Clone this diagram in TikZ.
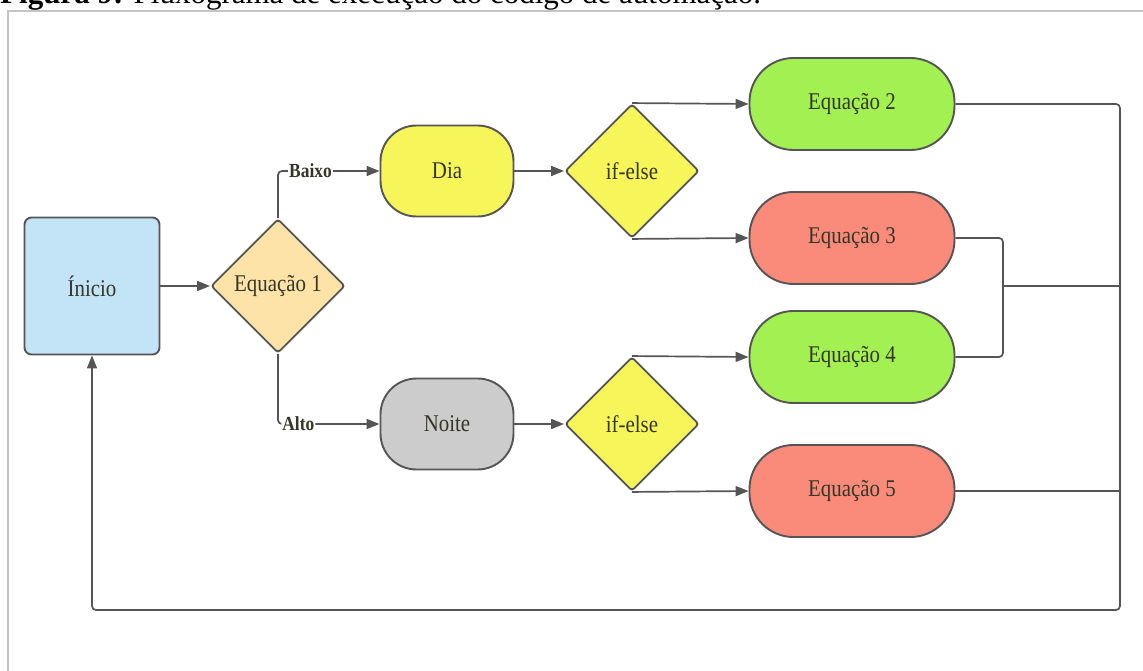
\documentclass[tikz,border=0pt]{standalone}
\usepackage{fontspec}
\setmainfont{Liberation Serif}
\newfontfamily\diafont[FakeStretch=0.87]{Liberation Serif}
\usetikzlibrary{shapes.geometric,arrows.meta}
\definecolor{edge}{HTML}{555555}
\definecolor{txt}{HTML}{363628}
\definecolor{framegray}{HTML}{C4C4C4}
\definecolor{blue1}{HTML}{C3E4F6}
\definecolor{peach}{HTML}{FDE3A7}
\definecolor{yel}{HTML}{F6F55A}
\definecolor{grey1}{HTML}{CCCCCC}
\definecolor{green1}{HTML}{A2F052}
\definecolor{salmon}{HTML}{FA8B7A}
\tikzset{
  base/.style={draw=edge, line width=1.9pt, text=txt, font=\diafont\fontsize{24}{26}\selectfont, inner sep=0pt},
  startbox/.style={base, rectangle, rounded corners=7pt, minimum width=135pt, minimum height=137pt, fill=blue1},
  decision/.style={base, diamond, aspect=1, rounded corners=3pt, minimum width=134pt, minimum height=134pt},
  term/.style={base, rectangle, rounded corners=36pt, minimum width=133pt, minimum height=91pt},
  eqbox/.style={base, rectangle, rounded corners=44pt, minimum width=205pt, minimum height=92pt},
  conn/.style={draw=edge, line width=1.7pt, rounded corners=4pt},
  arr/.style={conn, -{Triangle[length=13pt,width=10pt]}},
  lbl/.style={fill=white, inner sep=1pt, text=txt, font=\diafont\bfseries\fontsize{20}{22}\selectfont}
}
\begin{document}
\begin{tikzpicture}[x=1pt,y=-1pt]
\useasboundingbox (0,0) rectangle (1143,671);
\fill[white] (0,0) rectangle (1143,671);
% caption (cut off at the top, as in the reference)
\node[anchor=base west, inner sep=0pt, font=\fontsize{31}{33}\selectfont] (cap) at (0,4)
  {\textbf{Figura 9:} Fluxograma de execução do código de automação.};
% frame
\draw[framegray, line width=1.5pt] (8,671) -- (8,11) -- (1143,11);
% nodes
\node[startbox] (ini) at (92,286) {Ínicio};
\node[decision, fill=peach] (eq1) at (278,286) {Equação 1};
\node[term, fill=yel] (dia) at (447,171) {Dia};
\node[term, fill=grey1] (noite) at (447,424) {Noite};
\node[decision, fill=yel] (if1) at (632,171) {if-else};
\node[decision, fill=yel] (if2) at (632,424) {if-else};
\node[eqbox, fill=green1] (e2) at (852,104) {Equação 2};
\node[eqbox, fill=salmon] (e3) at (852,238) {Equação 3};
\node[eqbox, fill=green1] (e4) at (852,357) {Equação 4};
\node[eqbox, fill=salmon] (e5) at (852,491) {Equação 5};
\coordinate (j) at (1003,286);
\coordinate (br) at (1120,610);
% connectors
\draw[arr] (ini) -- (eq1);
\draw[arr] (eq1.north) |- node[lbl, pos=0.66] {Baixo} (dia.west);
\draw[arr] (eq1.south) |- node[lbl, pos=0.6] {Alto} (noite.west);
\draw[arr] (dia) -- (if1);
\draw[arr] (noite) -- (if2);
\draw[arr] (if1.north) -- (e2.west);
\draw[arr] (if1.south) -- (e3.west);
\draw[arr] (if2.north) -- (e4.west);
\draw[arr] (if2.south) -- (e5.west);
\draw[conn] (e3.east) -| (j);
\draw[conn] (e4.east) -| (j);
\draw[conn] (j) -- (j -| br);
\draw[conn] (e5.east) -- (e5.east -| br);
\draw[arr] (e2.east) -| (br) -| (ini.south);
\end{tikzpicture}
\end{document}
